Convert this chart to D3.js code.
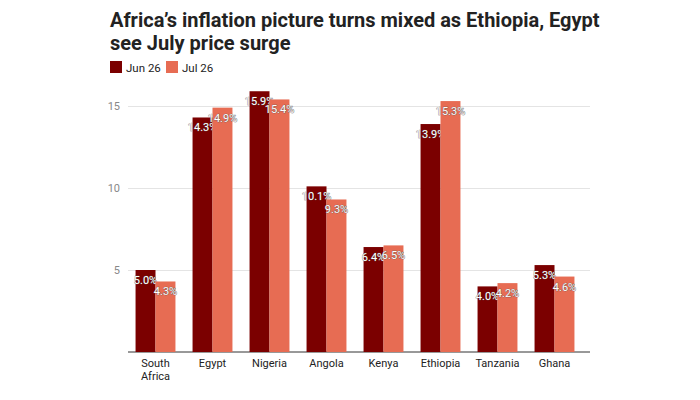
<!DOCTYPE html><html><head><meta charset="utf-8"><script src="https://cdn.jsdelivr.net/npm/d3@7"></script>
<style>body{margin:0;background:#fff;font-family:Roboto,sans-serif}</style></head><body><svg width="700" height="400"></svg>
<script>
const categories=[["South","Africa"],["Egypt"],["Nigeria"],["Angola"],["Kenya"],["Ethiopia"],["Tanzania"],["Ghana"]];
const seriesNames=["Jun 26","Jul 26"];
const jun=[5.0,14.3,15.9,10.1,6.4,13.9,4.0,5.3];
const jul=[4.3,14.9,15.4,9.3,6.5,15.3,4.2,4.6];
const ticks=[5,10,15];
const colors=["#7b0000","#e76c53"];
const svg=d3.select("svg");
svg.append("text").attr("x",110).attr("y",27).attr("font-size",20).attr("font-weight",700).attr("fill","#222").text("Africa’s inflation picture turns mixed as Ethiopia, Egypt");
svg.append("text").attr("x",110).attr("y",50).attr("font-size",20).attr("font-weight",700).attr("fill","#222").text("see July price surge");
seriesNames.forEach((n,i)=>{const g=svg.append("g").attr("transform",`translate(${110+i*56},61)`);
g.append("rect").attr("width",12).attr("height",12).attr("fill",colors[i]);
g.append("text").attr("x",16).attr("y",10.5).attr("font-size",11.5).attr("fill","#222").text(n);});
const x=d3.scaleBand().domain(d3.range(8)).range([127,583]).paddingInner(0.3).paddingOuter(0.15);
const x1=d3.scaleBand().domain([0,1]).range([0,x.bandwidth()]);
const y=d3.scaleLinear().domain([0,15]).range([352,106]);
const ax=svg.append("g").attr("transform","translate(128,0)").call(d3.axisLeft(y).tickValues(ticks).tickSize(-462).tickPadding(8));
ax.select(".domain").remove();
ax.selectAll("line").attr("stroke","#e4e4e4");
ax.selectAll("text").attr("fill","#888").attr("font-size",11).attr("font-family","Roboto");
svg.append("line").attr("x1",128).attr("x2",590).attr("y1",352).attr("y2",352).attr("stroke","#333");
const data=[jun,jul];
data.forEach((s,si)=>{
svg.selectAll(null).data(s).enter().append("rect").attr("x",(d,i)=>x(i)+x1(si)).attr("width",x1.bandwidth()).attr("y",d=>y(d)).attr("height",d=>352-y(d)).attr("fill",colors[si]);
svg.selectAll(null).data(s).enter().append("text").attr("x",(d,i)=>x(i)+x1(si)+x1.bandwidth()/2).attr("y",d=>y(d)+14)
.attr("text-anchor","middle").attr("font-size",11).attr("fill","#fff").attr("stroke","#555").attr("stroke-width",0.6).attr("paint-order","stroke").text(d=>d.toFixed(1)+"%");
});
categories.forEach((c,i)=>{c.forEach((l,j)=>svg.append("text").attr("x",x(i)+x.bandwidth()/2).attr("y",367+j*13).attr("text-anchor","middle").attr("font-size",11).attr("fill","#222").text(l));});
</script></body></html>
